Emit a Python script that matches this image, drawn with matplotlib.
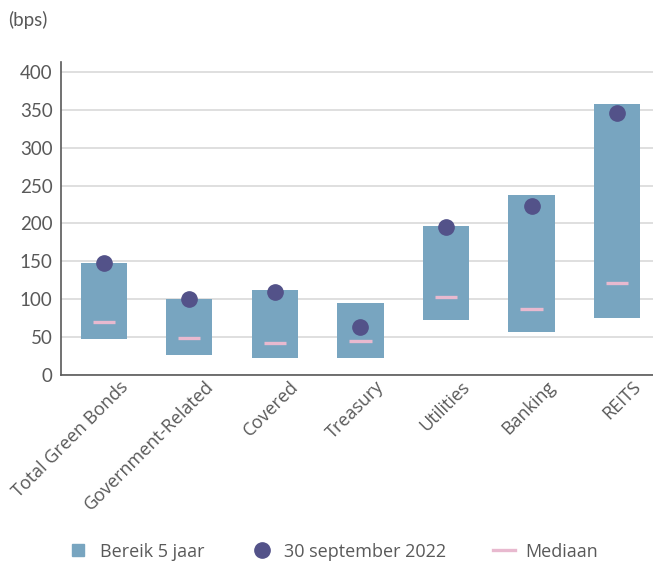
import matplotlib.pyplot as plt
import matplotlib.transforms as mtransforms
import numpy as np
from matplotlib.lines import Line2D

categories = ["Total Green Bonds", "Government-Related", "Covered", "Treasury",
              "Utilities", "Banking", "REITS"]
range_low = [47, 27, 22, 23, 72, 57, 75]
range_high = [148, 100, 112, 95, 197, 238, 358]
current = [148, 101, 109, 64, 196, 223, 346]
median = [70, 49, 42, 45, 103, 87, 121]

bar_color = "#78A5C0"
dot_color = "#535289"
median_color = "#E8B9CF"
text_color = "#595959"

plt.rcParams["font.family"] = ["Lato", "DejaVu Sans"]

fig = plt.figure(figsize=(6.53, 5.64), dpi=100)
ax = fig.add_axes([0.0934, 0.335, 0.9066, 0.555])

x = np.arange(len(categories))
heights = np.array(range_high) - np.array(range_low)
ax.bar(x, heights, bottom=range_low, width=0.54, color=bar_color, zorder=2)
ax.plot(x, current, "o", color=dot_color, markersize=11, zorder=4)
ax.errorbar(x, median, xerr=0.13, fmt="none", ecolor=median_color,
            elinewidth=2.4, capsize=0, zorder=3)

ax.set_xlim(-0.5, 6.42)
ax.set_ylim(0, 413)
ax.set_yticks(range(0, 401, 50))
ax.yaxis.grid(True, color="#D9D9D9", linewidth=1.2, zorder=0)
ax.set_axisbelow(True)

for s in ["top", "right"]:
    ax.spines[s].set_visible(False)
ax.spines["left"].set_color("#595959")
ax.spines["bottom"].set_color("#595959")
ax.spines["left"].set_linewidth(1.2)
ax.spines["bottom"].set_linewidth(1.2)

ax.tick_params(axis="y", length=0, labelsize=13.5, colors=text_color, pad=6)
ax.tick_params(axis="x", length=0, colors=text_color, pad=4)
ax.set_xticks(x)
ax.set_xticklabels(categories, rotation=45, ha="right", rotation_mode="anchor")
for lbl in ax.get_xticklabels():
    lbl.set_fontfamily(["Open Sans", "DejaVu Sans"])
    lbl.set_fontsize(13)

# nudge rotated labels so their ends sit just right of each bar
shift = mtransforms.ScaledTranslation(0.15, 0.03, fig.dpi_scale_trans)
for lbl in ax.get_xticklabels():
    lbl.set_transform(lbl.get_transform() + shift)

fig.text(0.012, 0.965, "(bps)", fontsize=13.5, color=text_color, va="center")

handles = [
    Line2D([], [], marker="s", linestyle="none", color=bar_color, markersize=9),
    Line2D([], [], marker="o", linestyle="none", color=dot_color, markersize=11),
    Line2D([], [], color=median_color, linewidth=2.4),
]
labels = ["Bereik 5 jaar", "30 september 2022", "Mediaan"]
fig.legend(handles, labels, loc="center", bbox_to_anchor=(0.51, 0.022), ncol=3,
           frameon=False, labelcolor=text_color, handlelength=1.2,
           handletextpad=0.6, columnspacing=2.6,
           prop={"family": ["Open Sans", "DejaVu Sans"], "size": 13})

fig.savefig("out.png", dpi=100)
